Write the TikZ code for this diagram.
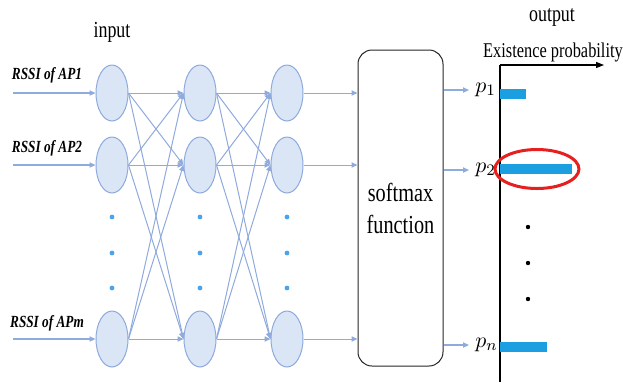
\documentclass[tikz,border=0pt]{standalone}
\usepackage{fontspec}
\setmainfont[FakeStretch=0.78]{Liberation Serif}
\usetikzlibrary{arrows.meta, positioning, shapes.geometric}
\definecolor{netline}{HTML}{8FAADC}
\definecolor{netfill}{HTML}{DAE6F6}
\definecolor{netdraw}{HTML}{8EA9DB}
\definecolor{barblue}{HTML}{1C9FE0}
\definecolor{dotblue}{HTML}{4AA3EE}
\definecolor{ringred}{HTML}{E5201F}

\begin{document}
\begin{tikzpicture}[x=0.5pt, y=-0.5pt,
    neuron/.style={ellipse, draw=netdraw, fill=netfill, line width=0.5pt,
                   minimum width=16pt, minimum height=28pt, inner sep=0pt},
    link/.style={-{Triangle[length=3pt, width=2.6pt]}, color=netline, line width=0.5pt},
    feed/.style={link, line width=0.7pt},
    smaxbox/.style={rectangle, rounded corners=7pt, draw=black!85, line width=0.5pt,
                    minimum width=42.5pt, minimum height=158pt, align=center,
                    font=\fontsize{13}{16}\selectfont},
    rssi/.style={font=\fontsize{8.5}{10}\selectfont\bfseries\itshape, inner sep=0pt},
    prob/.style={anchor=west, inner sep=3pt, font=\fontsize{11}{12}\selectfont},
    title/.style={font=\fontsize{11.5}{13}\selectfont, inner sep=0pt}
]
    \useasboundingbox (0,0) rectangle (623,382);

    % three layers of neurons
    \foreach \x/\l in {112/a,200/b,287/c}
        \foreach \y/\r in {93/1,165/2,339/3}
            \node[neuron] (\l\r) at (\x,\y) {};

    % dots between the rows
    \foreach \x in {112,200,287}
        \foreach \y in {217,253,288}
            \fill[dotblue] (\x,\y) circle (1.2pt);

    % inputs
    \node[title] (inlbl) at (112,32) {input};
    \node[rssi] (rssi1) at (47,75) {RSSI of AP1};
    \node[rssi] (rssi2) at (47,148) {RSSI of AP2};
    \node[rssi] (rssi3) at (47,323) {RSSI of APm};
    \foreach \i/\y in {1/93,2/165,3/339} {
        \coordinate (s\i) at (13,\y);
        \draw[feed] (s\i) -- (a\i.west);
    }

    % full connections
    \foreach \i in {1,2,3}
        \foreach \j in {1,2,3} {
            \draw[link] (a\i.east) -- (b\j.west);
            \draw[link] (b\i.east) -- (c\j.west);
        }

    \node[smaxbox] (smax) at (400.5,208) {softmax\\function};
    \foreach \i in {1,2,3}
        \draw[link] (c\i.east) -- (c\i.east -| smax.west);

    % outputs
    \node[prob] (p1) at (469,90) {$p_1$};
    \node[prob] (p2) at (469,170) {$p_2$};
    \node[prob] (pn) at (469,345) {$p_n$};
    \foreach \p in {p1,p2,pn}
        \draw[link, line width=0.8pt] (smax.east |- \p.west) -- (\p.west);

    \node[title] (outlbl) at (552,17) {output};
    \node[title, font=\fontsize{10.5}{12}\selectfont] (exlbl) at (553,52) {Existence probability};

    \coordinate (origin) at (500,65);
    \coordinate (xend) at (604,65);
    \coordinate (ybot) at (500,382);
    \draw[-{Triangle[length=4pt, width=3pt]}, line width=0.6pt] (origin) -- (xend);
    \draw[line width=0.6pt] (origin) -- (ybot);

    \fill[barblue] (500,89) rectangle (526,99);
    \fill[barblue] (500,164) rectangle (572,174);
    \fill[barblue] (500,342) rectangle (547,352);
    \draw[ringred, line width=1.5pt] (537,169) ellipse [x radius=21pt, y radius=9.75pt];

    \foreach \y in {227,263,299}
        \fill (528,\y) circle (1.1pt);
\end{tikzpicture}
\end{document}
